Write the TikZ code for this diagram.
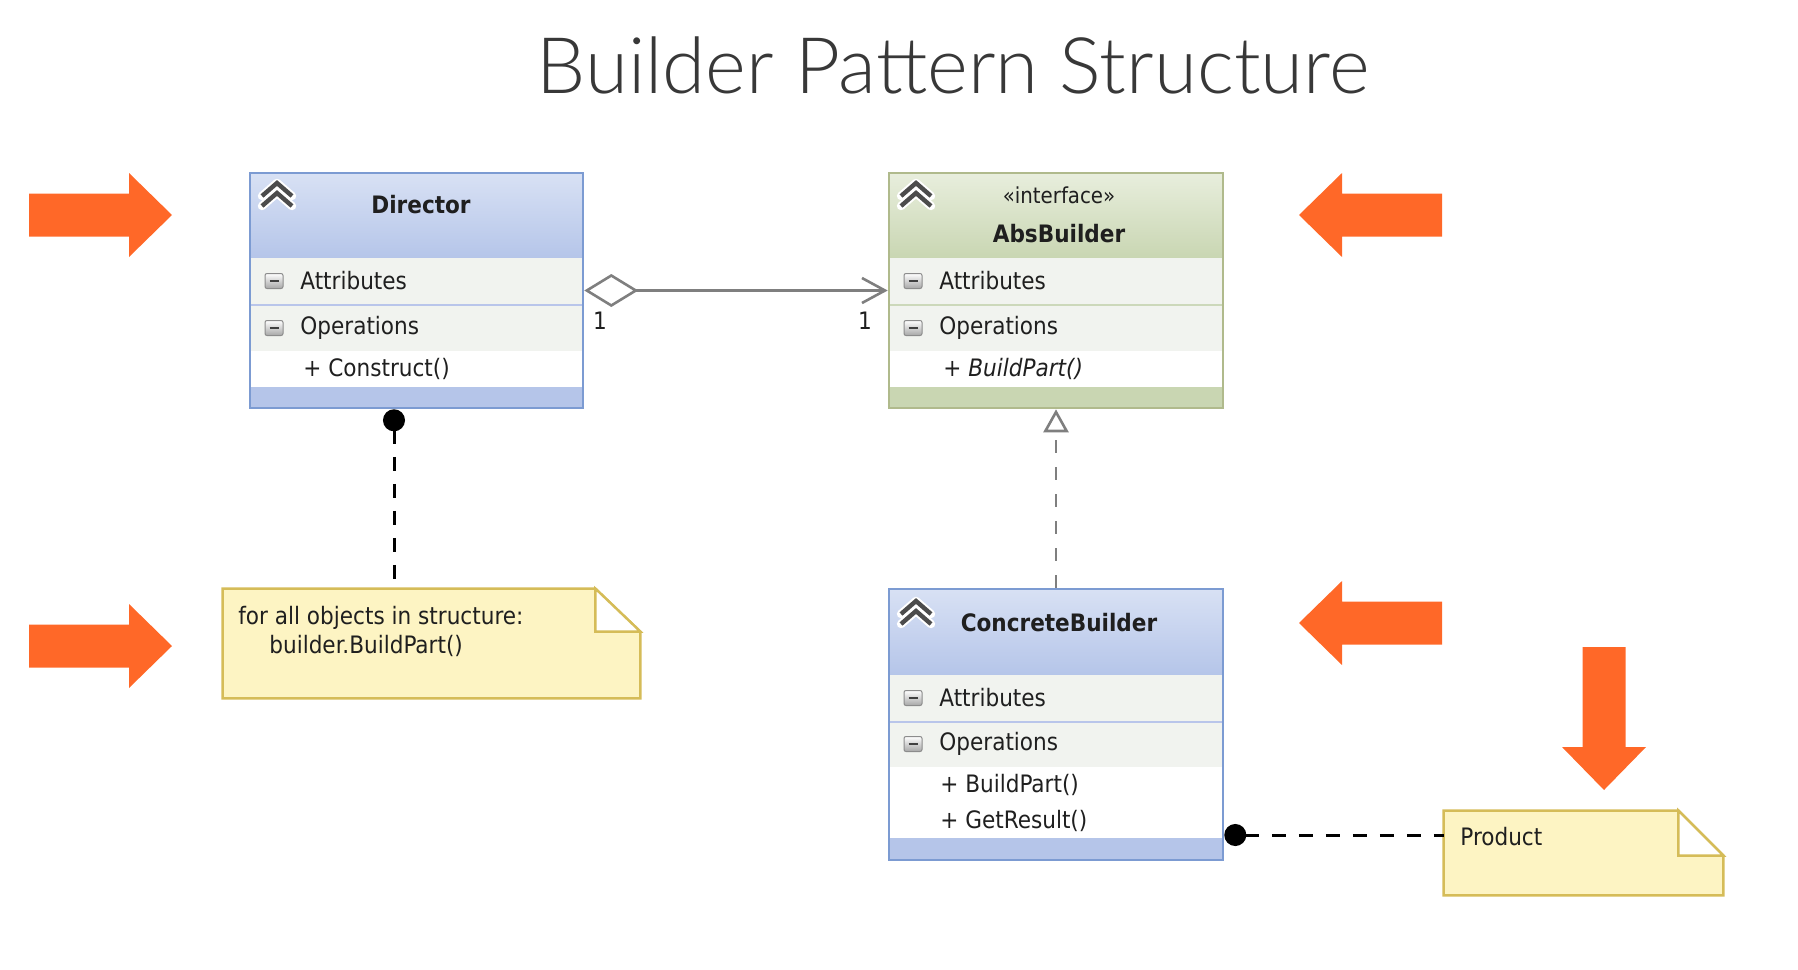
\documentclass[tikz,border=0pt]{standalone}
\usepackage{fontspec}
\setmainfont{DejaVu Sans Condensed}
\newfontfamily\titlefont{Lato Light}
\usepackage{tikz}
\usetikzlibrary{arrows.meta,calc,positioning}
\usepackage{xcolor}

\definecolor{hint}{RGB}{255,104,40}
\definecolor{dirtop}{HTML}{D8E1F4}
\definecolor{dirbot}{HTML}{B5C5E9}
\definecolor{dirborder}{HTML}{7C9BD2}
\definecolor{dirsep}{HTML}{B9C5EA}
\definecolor{abstop}{HTML}{E8EEDD}
\definecolor{absbot}{HTML}{C9D6B2}
\definecolor{absborder}{HTML}{B0BA8C}
\definecolor{abssep}{HTML}{CCD8BA}
\definecolor{rowgrey}{HTML}{F1F3EF}
\definecolor{notefill}{HTML}{FDF4C3}
\definecolor{noteborder}{HTML}{D5BC58}
\definecolor{linegrey}{HTML}{7F7F7F}

\begin{document}
\begin{tikzpicture}[x=0.5pt,y=-0.5pt,
	  every node/.style={inner sep=0pt,text=black!88},
	  classbox/.style={draw,line width=1.3pt,fill=none},
	  notebox/.style={draw=none,fill=none},
	  rowtext/.style={anchor=west,font=\fontsize{12}{14}\selectfont},
	  headtext/.style={font=\bfseries\fontsize{12}{14}\selectfont},
	  notepath/.style={fill=notefill,draw=noteborder,line width=1.2pt,line join=miter},
	  assoc/.style={{Diamond[open,length=27pt,width=16.5pt]}-{Straight Barb[length=11.5pt,width=12.5pt]},draw=linegrey,line width=1.3pt},
	  realize/.style={-{Triangle[open,length=11.5pt,width=12.5pt]},draw=linegrey,line width=1.3pt,dash pattern=on 6.5pt off 7pt},
	  pinlink/.style={{Circle[length=11pt]}-,draw=black,line width=1.5pt,dash pattern=on 7pt off 6.5pt},
	  expander/.pic={
	    \foreach \dy in {0,10} \draw[white,line width=4.2pt,line cap=round,line join=round] (-15,13+\dy) -- (0,\dy) -- (15,13+\dy);
	    \foreach \dy in {0,10} \draw[black!70,line width=2.2pt] (-15,13+\dy) -- (0,\dy) -- (15,13+\dy);},
	  collapse/.pic={
	    \shade[top color=white,bottom color=black!35,draw=black!45,line width=0.5pt,rounded corners=1pt] (-9,-7.5) rectangle (9,7.5);
	    \draw[black!75,line width=1.3pt] (-4.5,0) -- (4.5,0);}]

	  \useasboundingbox (0,0) rectangle (1798,969);

	  % title
	  \node[anchor=base,font=\titlefont\fontsize{39}{46}\selectfont,text=black!78] (title) at (953,93) {Builder Pattern Structure};

	  % orange hint arrows
	  \foreach \tx/\ty/\ang in {172/215/0,172/646/0,1299/215/180,1299/623/180,1604/790/-90}
	    \fill[hint,shift={(\tx,\ty)},rotate=\ang] (0,0) -- (-43,-42) -- (-43,-21.5) -- (-143,-21.5) -- (-143,21.5) -- (-43,21.5) -- (-43,42) -- cycle;

	  % Director
	  \shade[top color=dirtop,bottom color=dirbot] (250,173) rectangle (583,258);
	  \fill[rowgrey] (250,258) rectangle (583,351);
	  \fill[white] (250,351) rectangle (583,387);
	  \fill[dirbot] (250,387) rectangle (583,408);
	  \draw[dirsep,line width=1pt] (250,305) -- (583,305);
	  \node[classbox,draw=dirborder,minimum width=166.5pt,minimum height=117.5pt] (director) at (416.5,290.5) {};
	  \pic at (277,183) {expander};
	  \pic at (274,281) {collapse};
	  \pic at (274,328) {collapse};
	  \node[headtext] (dirname) at (421,205) {Director};
	  \node[rowtext] (dirattr) at (300,281) {Attributes};
	  \node[rowtext] (dirops) at (300,328) {Operations};
	  \node[rowtext] (dirconstruct) at (303,369) {+ Construct()};

	  % AbsBuilder
	  \shade[top color=abstop,bottom color=absbot] (889,173) rectangle (1223,258);
	  \fill[rowgrey] (889,258) rectangle (1223,351);
	  \fill[white] (889,351) rectangle (1223,387);
	  \fill[absbot] (889,387) rectangle (1223,408);
	  \draw[abssep,line width=1pt] (889,305) -- (1223,305);
	  \node[classbox,draw=absborder,minimum width=167pt,minimum height=117.5pt] (absbuilder) at (1056,290.5) {};
	  \pic at (916,183) {expander};
	  \pic at (913,281) {collapse};
	  \pic at (913,328) {collapse};
	  \node[font=\fontsize{11}{13}\selectfont] (absstereo) at (1059,195) {«interface»};
	  \node[headtext] (absname) at (1059,234) {AbsBuilder};
	  \node[rowtext] (absattr) at (939,281) {Attributes};
	  \node[rowtext] (absops) at (939,328) {Operations};
	  \node[rowtext,font=\itshape\fontsize{12}{14}\selectfont] (absbuild) at (943,369) {+ BuildPart()};

	  % ConcreteBuilder
	  \shade[top color=dirtop,bottom color=dirbot] (889,589) rectangle (1223,675);
	  \fill[rowgrey] (889,675) rectangle (1223,767);
	  \fill[white] (889,767) rectangle (1223,838);
	  \fill[dirbot] (889,838) rectangle (1223,860);
	  \draw[dirsep,line width=1pt] (889,722) -- (1223,722);
	  \node[classbox,draw=dirborder,minimum width=167pt,minimum height=135.5pt] (concrete) at (1056,724.5) {};
	  \pic at (916,601) {expander};
	  \pic at (913,698) {collapse};
	  \pic at (913,744) {collapse};
	  \node[headtext] (cbname) at (1059,623) {ConcreteBuilder};
	  \node[rowtext] (cbattr) at (939,698) {Attributes};
	  \node[rowtext] (cbops) at (939,744) {Operations};
	  \node[rowtext] (cbbuild) at (940,785) {+ BuildPart()};
	  \node[rowtext] (cbresult) at (940,821) {+ GetResult()};

	  % notes
	  \node[notebox,minimum width=208.5pt,minimum height=54.5pt] (loopnote) at (431.5,643.5) {};
	  \draw[notepath] (loopnote.north west) -- ($(loopnote.north east)+(-45,0)$) -- ($(loopnote.north east)+(0,43)$) -- (loopnote.south east) -- (loopnote.south west) -- cycle;
	  \draw[notepath,fill=white] ($(loopnote.north east)+(-45,0)$) -- ++(0,43) -- ++(45,0) -- cycle;
	  \node[anchor=north west,align=left,font=\fontsize{12}{14.5}\selectfont] (looptext) at (238,606) {for all objects in structure:\\\hspace*{15.5pt}builder.BuildPart()};

	  \node[notebox,minimum width=139.5pt,minimum height=42pt] (product) at (1583.5,853) {};
	  \draw[notepath] (product.north west) -- ($(product.north east)+(-45,0)$) -- ($(product.north east)+(0,45)$) -- (product.south east) -- (product.south west) -- cycle;
	  \draw[notepath,fill=white] ($(product.north east)+(-45,0)$) -- ++(0,45) -- ++(45,0) -- cycle;
	  \node[rowtext] (producttext) at (1460,837) {Product};

	  % connectors
	  \draw[assoc] (director.east) -- (absbuilder.west);
	  \node[font=\fontsize{12}{14}\selectfont] (multdir) at (600,321) {1};
	  \node[font=\fontsize{12}{14}\selectfont] (multabs) at (865,321) {1};
	  \draw[realize] (concrete.north) -- (absbuilder.south);
	  \draw[pinlink] ([xshift=-11.25pt]director.south) -- ([xshift=-18.75pt]loopnote.north);
	  \draw[pinlink] ([yshift=-55.25pt]concrete.east) -- ([yshift=9pt]product.west);

\end{tikzpicture}
\end{document}
